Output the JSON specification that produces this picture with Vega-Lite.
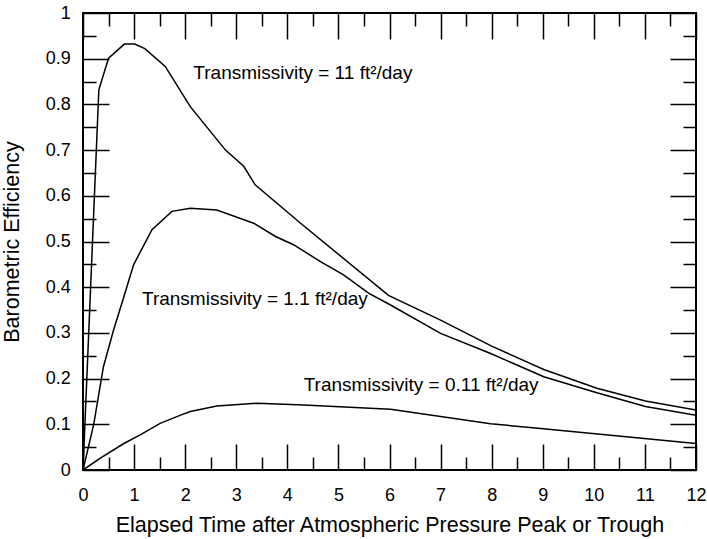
{
  "$schema": "https://vega.github.io/schema/vega-lite/v6.json",
  "width": 613,
  "height": 457,
  "autosize": {"type": "none"},
  "padding": {"left": 83, "top": 13, "right": 11, "bottom": 69},
  "background": "white",
  "config": {
    "view": {"stroke": "black", "strokeWidth": 2},
    "axis": {
      "labelFont": "Liberation Sans",
      "labelFontSize": 18,
      "labelColor": "black",
      "titleFont": "Liberation Sans",
      "titleFontSize": 21.5,
      "titleFontWeight": "normal",
      "titleColor": "black",
      "grid": false,
      "domain": false
    }
  },
  "datasets": {
    "curves": [
      {"series": "T11", "t": 0, "be": 0},
      {"series": "T11", "t": 0.31, "be": 0.832},
      {"series": "T11", "t": 0.5, "be": 0.901},
      {"series": "T11", "t": 0.81, "be": 0.932},
      {"series": "T11", "t": 1.01, "be": 0.932},
      {"series": "T11", "t": 1.21, "be": 0.922},
      {"series": "T11", "t": 1.61, "be": 0.883},
      {"series": "T11", "t": 2.1, "be": 0.795},
      {"series": "T11", "t": 2.79, "be": 0.7},
      {"series": "T11", "t": 3.15, "be": 0.664},
      {"series": "T11", "t": 3.37, "be": 0.624},
      {"series": "T11", "t": 4.26, "be": 0.54},
      {"series": "T11", "t": 5.98, "be": 0.382},
      {"series": "T11", "t": 7.0, "be": 0.328},
      {"series": "T11", "t": 7.98, "be": 0.272},
      {"series": "T11", "t": 9.02, "be": 0.22},
      {"series": "T11", "t": 10.06, "be": 0.179},
      {"series": "T11", "t": 11.01, "be": 0.151},
      {"series": "T11", "t": 12, "be": 0.131},
      {"series": "T1.1", "t": 0, "be": 0},
      {"series": "T1.1", "t": 0.21, "be": 0.1},
      {"series": "T1.1", "t": 0.4, "be": 0.226},
      {"series": "T1.1", "t": 0.6, "be": 0.307},
      {"series": "T1.1", "t": 0.8, "be": 0.379},
      {"series": "T1.1", "t": 0.99, "be": 0.449},
      {"series": "T1.1", "t": 1.35, "be": 0.526},
      {"series": "T1.1", "t": 1.74, "be": 0.566},
      {"series": "T1.1", "t": 2.1, "be": 0.573},
      {"series": "T1.1", "t": 2.62, "be": 0.569},
      {"series": "T1.1", "t": 3.34, "be": 0.54},
      {"series": "T1.1", "t": 3.77, "be": 0.511},
      {"series": "T1.1", "t": 4.12, "be": 0.493},
      {"series": "T1.1", "t": 4.65, "be": 0.456},
      {"series": "T1.1", "t": 5.1, "be": 0.427},
      {"series": "T1.1", "t": 5.59, "be": 0.387},
      {"series": "T1.1", "t": 6.02, "be": 0.361},
      {"series": "T1.1", "t": 7.0, "be": 0.299},
      {"series": "T1.1", "t": 7.98, "be": 0.255},
      {"series": "T1.1", "t": 9.02, "be": 0.204},
      {"series": "T1.1", "t": 10.06, "be": 0.169},
      {"series": "T1.1", "t": 11.01, "be": 0.139},
      {"series": "T1.1", "t": 12, "be": 0.12},
      {"series": "T0.11", "t": 0, "be": 0},
      {"series": "T0.11", "t": 0.34, "be": 0.026},
      {"series": "T0.11", "t": 0.8, "be": 0.058},
      {"series": "T0.11", "t": 1.12, "be": 0.077},
      {"series": "T0.11", "t": 1.51, "be": 0.102},
      {"series": "T0.11", "t": 1.91, "be": 0.12},
      {"series": "T0.11", "t": 2.1, "be": 0.128},
      {"series": "T0.11", "t": 2.62, "be": 0.14},
      {"series": "T0.11", "t": 3.41, "be": 0.146},
      {"series": "T0.11", "t": 4.32, "be": 0.142},
      {"series": "T0.11", "t": 6.02, "be": 0.133},
      {"series": "T0.11", "t": 7.0, "be": 0.117},
      {"series": "T0.11", "t": 7.98, "be": 0.101},
      {"series": "T0.11", "t": 8.96, "be": 0.091},
      {"series": "T0.11", "t": 12, "be": 0.058}
    ],
    "labels": [
      {"t": 2.16, "be": 0.869, "text": "Transmissivity = 11 ft²/day"},
      {"t": 1.155, "be": 0.374, "text": "Transmissivity = 1.1 ft²/day"},
      {"t": 4.32, "be": 0.186, "text": "Transmissivity = 0.11 ft²/day"}
    ]
  },
  "resolve": {"axis": {"x": "independent", "y": "independent"}},
  "layer": [
    {
      "data": {"name": "curves"},
      "mark": {"type": "line", "color": "black", "strokeWidth": 1.5, "clip": true},
      "encoding": {
        "x": {
          "field": "t", "type": "quantitative",
          "scale": {"domain": [0, 12], "nice": false, "zero": false},
          "axis": {
            "orient": "bottom",
            "values": [0, 1, 2, 3, 4, 5, 6, 7, 8, 9, 10, 11, 12],
            "format": "~g",
            "ticks": true,
            "tickSize": -26, "tickColor": "black", "tickWidth": 1.5,
            "labelPadding": 42.7,
            "labelFlush": false,
            "title": "Elapsed Time after Atmospheric Pressure Peak or Trough",
            "titlePadding": 10
          }
        },
        "y": {
          "field": "be", "type": "quantitative",
          "scale": {"domain": [0, 1], "nice": false, "zero": false},
          "axis": {
            "orient": "left",
            "values": [0, 0.1, 0.2, 0.3, 0.4, 0.5, 0.6, 0.7, 0.8, 0.9, 1],
            "format": "~g",
            "ticks": true,
            "tickSize": -26, "tickColor": "black", "tickWidth": 1.5,
            "labelPadding": 38.7,
            "labelFlush": false,
            "title": "Barometric Efficiency",
            "titlePadding": 22
          }
        },
        "detail": {"field": "series", "type": "nominal"}
      }
    },
    {
      "data": {"name": "labels"},
      "mark": {"type": "text", "align": "left", "baseline": "middle", "fontSize": 19, "font": "Liberation Sans", "color": "black"},
      "encoding": {
        "x": {
          "field": "t", "type": "quantitative",
          "scale": {"domain": [0, 12], "nice": false, "zero": false},
          "axis": {
            "orient": "bottom",
            "values": [0.5, 1.5, 2.5, 3.5, 4.5, 5.5, 6.5, 7.5, 8.5, 9.5, 10.5, 11.5],
            "ticks": true,
            "tickSize": -13, "tickColor": "black", "tickWidth": 1.5,
            "labels": false, "title": null
          }
        },
        "y": {
          "field": "be", "type": "quantitative",
          "scale": {"domain": [0, 1], "nice": false, "zero": false},
          "axis": {
            "orient": "left",
            "values": [0.05, 0.15, 0.25, 0.35, 0.45, 0.55, 0.65, 0.75, 0.85, 0.95],
            "ticks": true,
            "tickSize": -13, "tickColor": "black", "tickWidth": 1.5,
            "labels": false, "title": null
          }
        },
        "text": {"field": "text", "type": "nominal"}
      }
    },
    {
      "data": {"name": "curves"},
      "mark": {"type": "line", "strokeOpacity": 0},
      "encoding": {
        "x": {
          "field": "t", "type": "quantitative",
          "scale": {"domain": [0, 12], "nice": false, "zero": false},
          "axis": {
            "orient": "top",
            "values": [0, 1, 2, 3, 4, 5, 6, 7, 8, 9, 10, 11, 12],
            "ticks": true,
            "tickSize": -26, "tickColor": "black", "tickWidth": 1.5,
            "labels": false, "title": null
          }
        },
        "y": {
          "field": "be", "type": "quantitative",
          "scale": {"domain": [0, 1], "nice": false, "zero": false},
          "axis": {
            "orient": "right",
            "values": [0, 0.1, 0.2, 0.3, 0.4, 0.5, 0.6, 0.7, 0.8, 0.9, 1],
            "ticks": true,
            "tickSize": -26, "tickColor": "black", "tickWidth": 1.5,
            "labels": false, "title": null
          }
        },
        "detail": {"field": "series", "type": "nominal"}
      }
    },
    {
      "data": {"name": "curves"},
      "mark": {"type": "line", "strokeOpacity": 0},
      "encoding": {
        "x": {
          "field": "t", "type": "quantitative",
          "scale": {"domain": [0, 12], "nice": false, "zero": false},
          "axis": {
            "orient": "top",
            "values": [0.5, 1.5, 2.5, 3.5, 4.5, 5.5, 6.5, 7.5, 8.5, 9.5, 10.5, 11.5],
            "ticks": true,
            "tickSize": -13, "tickColor": "black", "tickWidth": 1.5,
            "labels": false, "title": null
          }
        },
        "y": {
          "field": "be", "type": "quantitative",
          "scale": {"domain": [0, 1], "nice": false, "zero": false},
          "axis": {
            "orient": "right",
            "values": [0.05, 0.15, 0.25, 0.35, 0.45, 0.55, 0.65, 0.75, 0.85, 0.95],
            "ticks": true,
            "tickSize": -13, "tickColor": "black", "tickWidth": 1.5,
            "labels": false, "title": null
          }
        },
        "detail": {"field": "series", "type": "nominal"}
      }
    }
  ]
}
